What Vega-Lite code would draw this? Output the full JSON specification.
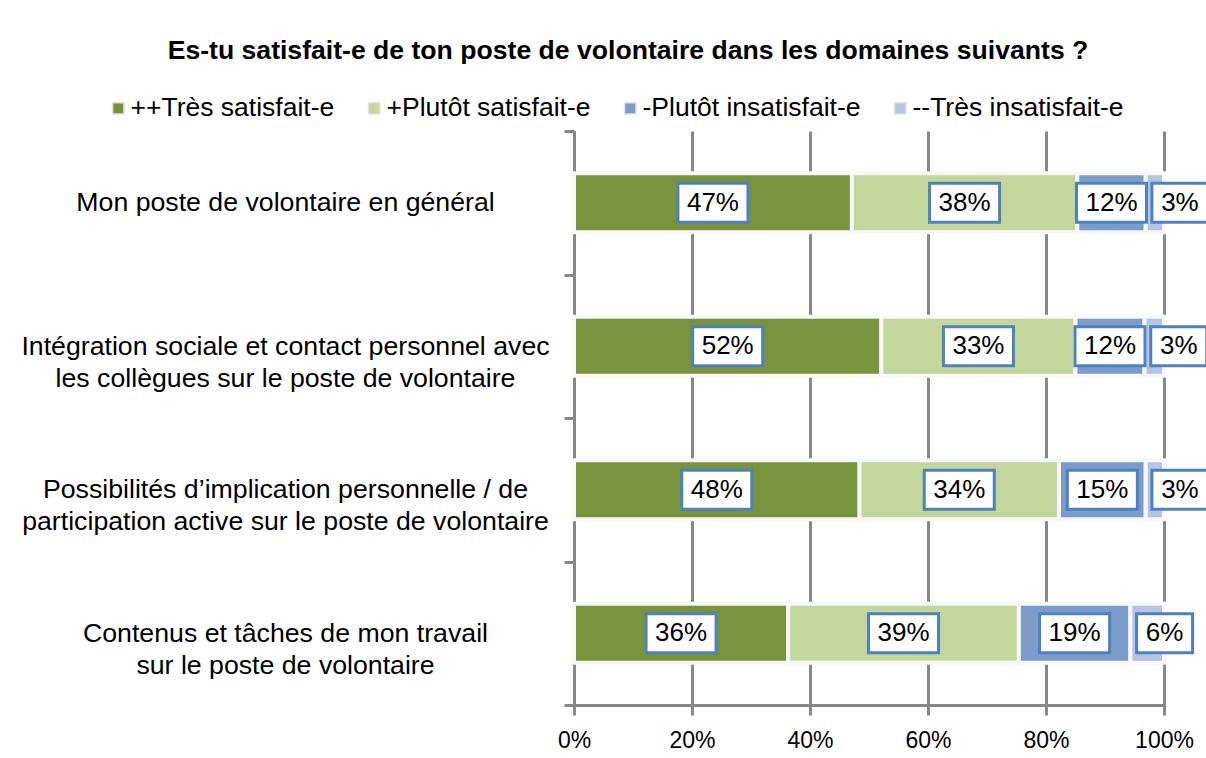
{
  "$schema": "https://vega.github.io/schema/vega-lite/v6.json",
  "width": 590,
  "height": 574,
  "autosize": {"type": "none"},
  "padding": {"left": 574, "top": 131, "right": 42, "bottom": 53},
  "background": "white",
  "config": {"view": {"stroke": null}, "font": "Liberation Sans"},
  "title": {
    "text": "Es-tu satisfait-e de ton poste de volontaire dans les domaines suivants ?",
    "font": "Liberation Sans",
    "fontSize": 26.6,
    "fontWeight": "bold",
    "color": "black",
    "anchor": "middle",
    "dx": -241,
    "offset": 30
  },
  "data": {
    "values": [
      {"domaine": "Mon poste de volontaire en général", "reponse": "++Très satisfait-e", "ordre": 1, "pct": 47.1},
      {"domaine": "Mon poste de volontaire en général", "reponse": "+Plutôt satisfait-e", "ordre": 2, "pct": 38.2},
      {"domaine": "Mon poste de volontaire en général", "reponse": "-Plutôt insatisfait-e", "ordre": 3, "pct": 11.6},
      {"domaine": "Mon poste de volontaire en général", "reponse": "--Très insatisfait-e", "ordre": 4, "pct": 3.1},
      {"domaine": "Intégration sociale et contact personnel avec\nles collègues sur le poste de volontaire", "reponse": "++Très satisfait-e", "ordre": 1, "pct": 52.1},
      {"domaine": "Intégration sociale et contact personnel avec\nles collègues sur le poste de volontaire", "reponse": "+Plutôt satisfait-e", "ordre": 2, "pct": 32.9},
      {"domaine": "Intégration sociale et contact personnel avec\nles collègues sur le poste de volontaire", "reponse": "-Plutôt insatisfait-e", "ordre": 3, "pct": 11.7},
      {"domaine": "Intégration sociale et contact personnel avec\nles collègues sur le poste de volontaire", "reponse": "--Très insatisfait-e", "ordre": 4, "pct": 3.3},
      {"domaine": "Possibilités d’implication personnelle / de\nparticipation active sur le poste de volontaire", "reponse": "++Très satisfait-e", "ordre": 1, "pct": 48.4},
      {"domaine": "Possibilités d’implication personnelle / de\nparticipation active sur le poste de volontaire", "reponse": "+Plutôt satisfait-e", "ordre": 2, "pct": 33.8},
      {"domaine": "Possibilités d’implication personnelle / de\nparticipation active sur le poste de volontaire", "reponse": "-Plutôt insatisfait-e", "ordre": 3, "pct": 14.7},
      {"domaine": "Possibilités d’implication personnelle / de\nparticipation active sur le poste de volontaire", "reponse": "--Très insatisfait-e", "ordre": 4, "pct": 3.1},
      {"domaine": "Contenus et tâches de mon travail\nsur le poste de volontaire", "reponse": "++Très satisfait-e", "ordre": 1, "pct": 36.3},
      {"domaine": "Contenus et tâches de mon travail\nsur le poste de volontaire", "reponse": "+Plutôt satisfait-e", "ordre": 2, "pct": 39.1},
      {"domaine": "Contenus et tâches de mon travail\nsur le poste de volontaire", "reponse": "-Plutôt insatisfait-e", "ordre": 3, "pct": 18.9},
      {"domaine": "Contenus et tâches de mon travail\nsur le poste de volontaire", "reponse": "--Très insatisfait-e", "ordre": 4, "pct": 5.7}
    ]
  },
  "transform": [
    {"stack": "pct", "groupby": ["domaine"], "sort": [{"field": "ordre", "order": "ascending"}], "as": ["x0", "x1"]},
    {"calculate": "datum.ordre == 4 ? datum.x0 + 5.8 : (datum.x0 + datum.x1) / 2", "as": "lx"},
    {"calculate": "format(datum.pct, '.0f') + '%'", "as": "etiquette"}
  ],
  "encoding": {
    "y": {
      "field": "domaine",
      "type": "nominal",
      "sort": null,
      "scale": {"paddingInner": 0, "paddingOuter": 0},
      "axis": {
        "title": null,
        "grid": false,
        "domainColor": "#878787",
        "domainWidth": 3,
        "tickColor": "#878787",
        "tickWidth": 3,
        "tickSize": 10,
        "tickBand": "extent",
        "labelFont": "Liberation Sans",
        "labelFontSize": 26.7,
        "labelColor": "black",
        "labelAlign": "center",
        "labelPadding": 279,
        "labelLimit": 600,
        "labelLineHeight": 32,
        "labelExpr": "split(datum.label, '\\n')"
      }
    }
  },
  "layer": [
    {
      "mark": {"type": "bar", "stroke": "#f8f8f8", "strokeWidth": 4, "height": {"band": 0.411}},
      "encoding": {
        "x": {
          "field": "x0",
          "type": "quantitative",
          "scale": {"domain": [0, 100], "nice": false},
          "axis": {
            "title": null,
            "values": [0, 20, 40, 60, 80, 100],
            "labelExpr": "datum.value + '%'",
            "grid": true,
            "gridColor": "#878787",
            "gridWidth": 3,
            "domainColor": "#878787",
            "domainWidth": 3,
            "tickColor": "#878787",
            "tickWidth": 3,
            "tickSize": 10,
            "labelFont": "Liberation Sans",
            "labelFontSize": 23,
            "labelColor": "black",
            "labelPadding": 14,
            "labelFlush": false
          }
        },
        "x2": {"field": "x1"},
        "color": {
          "field": "reponse",
          "type": "nominal",
          "scale": {
            "domain": ["++Très satisfait-e", "+Plutôt satisfait-e", "-Plutôt insatisfait-e", "--Très insatisfait-e"],
            "range": ["#77933c", "#c3d69b", "#7b9bcb", "#b4c4e2"]
          },
          "legend": {
            "title": null,
            "orient": "none",
            "direction": "horizontal",
            "legendX": -469,
            "legendY": -36,
            "symbolType": "square",
            "symbolSize": 130,
            "symbolStrokeColor": "#e2e2e2",
            "symbolStrokeWidth": 1.5,
            "labelFont": "Liberation Sans",
            "labelFontSize": 26.5,
            "labelColor": "black",
            "labelOffset": -1,
            "columnPadding": 26,
            "padding": 0,
            "labelLimit": 400
          }
        }
      }
    },
    {
      "mark": {"type": "point", "filled": true, "fill": "white", "stroke": "#4f81bd", "strokeWidth": 3, "opacity": 1, "fillOpacity": 1, "strokeOpacity": 1},
      "encoding": {
        "x": {"field": "lx", "type": "quantitative"},
        "shape": {
          "condition": {"test": "datum.pct < 9.5", "value": "M-1,-0.7L1,-0.7L1,0.7L-1,0.7Z"},
          "value": "M-1,-0.557L1,-0.557L1,0.557L-1,0.557Z"
        },
        "size": {
          "condition": {"test": "datum.pct < 9.5", "value": 3136},
          "value": 4900
        }
      }
    },
    {
      "mark": {"type": "text", "font": "Liberation Sans", "fontSize": 26, "color": "black", "align": "center", "baseline": "middle"},
      "encoding": {
        "x": {"field": "lx", "type": "quantitative"},
        "text": {"field": "etiquette", "type": "nominal"}
      }
    }
  ]
}
